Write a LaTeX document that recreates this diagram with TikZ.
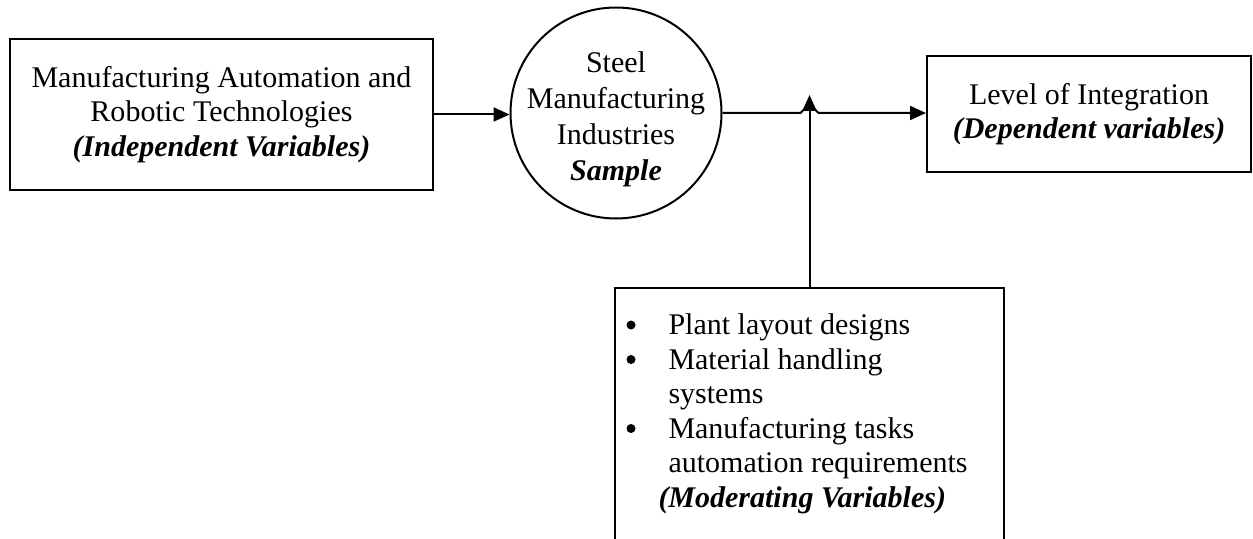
\documentclass[tikz,border=0pt]{standalone}
\usepackage{fontspec}
\setmainfont{Liberation Serif}
\usetikzlibrary{arrows.meta,calc}

\tikzset{
  txt/.style={font=\fontsize{12}{13.8}\selectfont, align=center, inner sep=0pt},
  box/.style={txt, draw, line width=0.8pt, rectangle},
  bubble/.style={draw, line width=0.8pt, circle, inner sep=0pt},
  dot/.style={fill, circle, inner sep=0pt, minimum size=3.6pt},
  conn/.style={line width=0.8pt, -{Triangle[length=6.4pt,width=5.6pt]}},
}
\newcommand{\bi}[1]{\textbf{\textit{#1}}}

\begin{document}
\begin{tikzpicture}[x=0.4pt,y=-0.4pt]
  \useasboundingbox (0,0) rectangle (1253,539);

  % independent variables
  \node[box, minimum width=169.2pt, minimum height=60.4pt] (ind) at (221.5,114.5)
    {Manufacturing Automation and\\Robotic Technologies\\\bi{(Independent Variables)}};

  % sample
  \node[bubble, minimum size=84.4pt] (circ) at (616,113) {};
  \node[txt, font=\fontsize{12}{14.4}\selectfont] (circtxt) at (616,119)
    {Steel\\Manufacturing\\Industries\\\bi{Sample}};

  % dependent variables
  \node[box, minimum width=129.6pt, minimum height=46.4pt] (lvl) at (1089,114)
    {Level of Integration\\\bi{(Dependent variables)}};

  % moderating variables: frame open at the bottom
  \node[inner sep=0pt, minimum width=155.2pt, minimum height=100.4pt, anchor=north west] (mod) at (615,288) {};
  \draw[line width=0.8pt] (mod.south west) -- (mod.north west) -- (mod.north east) -- (mod.south east);
  \node[txt, align=left, anchor=north west] (modtxt) at (624,310) {%
    \begin{tabular}{@{\hspace{17.6pt}}l@{}}
      Plant layout designs\\
      Material handling\\
      systems\\
      Manufacturing tasks\\
      automation requirements\\
      \multicolumn{1}{@{\hspace{13.6pt}}l@{}}{\bi{(Moderating Variables)}}
    \end{tabular}};
  % list bullets
  \node[dot] (b1) at (631,325) {};
  \node[dot] (b2) at (631,359.5) {};
  \node[dot] (b3) at (631,428.5) {};

  % connectors
  \coordinate (j) at (circ.east -| mod.north);
  \draw[conn] (ind.east) -- (ind.east -| circ.west);
  \draw[conn] (circ.east) -- ($(j)+(-9,0)$) -- ($(j)+(-6,-3)$) -- ($(j)+(6,-3)$)
    -- ($(j)+(9,0)$) -- (circ.east -| lvl.west);
  \draw[conn] (mod.north) -- ($(j)+(0,-18)$);
\end{tikzpicture}
\end{document}
